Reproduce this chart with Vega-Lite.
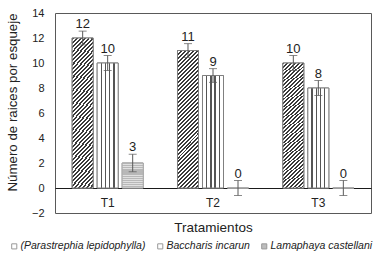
{
  "$schema": "https://vega.github.io/schema/vega-lite/v6.json",
  "width": 316,
  "height": 200,
  "autosize": {"type": "none"},
  "padding": {"left": 55, "top": 13, "right": 8, "bottom": 45},
  "config": {
    "font": "Liberation Sans",
    "view": {"stroke": "#595959", "strokeWidth": 1},
    "axis": {"grid": false, "titleFontWeight": "normal", "labelColor": "#222", "titleColor": "#222"},
    "axisY": {"labelOverlap": false, "labelFontSize": 11}
  },
  "data": {
    "values": [
      {"t": "T1", "s": "(Parastrephia lepidophylla)", "v": 12, "lo": 11.45, "hi": 12.55, "lab": "12"},
      {"t": "T1", "s": "Baccharis incarun", "v": 10, "lo": 9.4, "hi": 10.6, "lab": "10"},
      {"t": "T1", "s": "Lamaphaya castellani", "v": 2, "lo": 1.3, "hi": 2.7, "lab": "3"},
      {"t": "T2", "s": "(Parastrephia lepidophylla)", "v": 11, "lo": 10.45, "hi": 11.55, "lab": "11"},
      {"t": "T2", "s": "Baccharis incarun", "v": 9, "lo": 8.45, "hi": 9.55, "lab": "9"},
      {"t": "T2", "s": "Lamaphaya castellani", "v": 0, "lo": -0.6, "hi": 0.6, "lab": "0"},
      {"t": "T3", "s": "(Parastrephia lepidophylla)", "v": 10, "lo": 9.4, "hi": 10.6, "lab": "10"},
      {"t": "T3", "s": "Baccharis incarun", "v": 8, "lo": 7.4, "hi": 8.6, "lab": "8"},
      {"t": "T3", "s": "Lamaphaya castellani", "v": 0, "lo": -0.6, "hi": 0.6, "lab": "0"}
    ]
  },
  "encoding": {
    "x": {
      "field": "t", "type": "nominal",
      "scale": {"paddingInner": 0, "paddingOuter": 0},
      "axis": {
        "offset": -25, "labelAngle": 0, "ticks": false, "domainColor": "#1a1a1a", "domainWidth": 1,
        "labelPadding": 9, "labelFontSize": 12, "title": "Tratamientos", "titleFontSize": 13.5, "titlePadding": 12
      }
    },
    "xOffset": {
      "field": "s", "type": "nominal",
      "scale": {"domain": ["(Parastrephia lepidophylla)", "Baccharis incarun", "Lamaphaya castellani"], "paddingInner": 0.16, "paddingOuter": 0.686}
    }
  },
  "layer": [
    {
      "mark": {"type": "bar", "stroke": "#808080", "strokeWidth": 1},
      "encoding": {
        "y": {
          "field": "v", "type": "quantitative",
          "scale": {"domain": [-2, 14], "nice": false},
          "axis": {
            "values": [-2, 0, 2, 4, 6, 8, 10, 12, 14], "tickCount": 12, "labelOverlap": false, "domain": false, "ticks": false, "labelPadding": 11, "labelFontSize": 11,
            "title": "Número  de raices por esqueje", "titleFontSize": 13.3, "titleX": -43, "titleY": 89, "titleAngle": -90, "titleAlign": "center", "titleBaseline": "middle"
          }
        },
        "fill": {
          "field": "s", "type": "nominal",
          "scale": {"domain": ["(Parastrephia lepidophylla)", "Baccharis incarun", "Lamaphaya castellani"], "range": ["#ffffff", "#ffffff", "#bdbdbd"]},
          "legend": {
            "orient": "none", "legendX": -46, "legendY": 228, "direction": "horizontal", "title": null,
            "symbolType": "square", "symbolSize": 26, "symbolStrokeColor": "#999", "symbolStrokeWidth": 1,
            "labelFontSize": 10.5, "labelFontStyle": "italic", "labelColor": "#222", "columnPadding": 9, "labelOffset": 1, "labelLimit": 200
          }
        }
      }
    },
    {
      "transform": [{"filter": "datum.s === '(Parastrephia lepidophylla)'"}],
      "mark": {"type": "bar", "stroke": "#808080", "strokeWidth": 1,
        "fill": {"gradient": "linear", "x1": 0, "y1": 0, "x2": 0.1727, "y2": 1.1268, "stops": [
          {"offset": 0, "color": "#3a3a3a"}, {"offset": 0.0125, "color": "#3a3a3a"}, {"offset": 0.0125, "color": "#fff"}, {"offset": 0.025, "color": "#fff"},
          {"offset": 0.025, "color": "#3a3a3a"}, {"offset": 0.0375, "color": "#3a3a3a"}, {"offset": 0.0375, "color": "#fff"}, {"offset": 0.05, "color": "#fff"},
          {"offset": 0.05, "color": "#3a3a3a"}, {"offset": 0.0625, "color": "#3a3a3a"}, {"offset": 0.0625, "color": "#fff"}, {"offset": 0.075, "color": "#fff"},
          {"offset": 0.075, "color": "#3a3a3a"}, {"offset": 0.0875, "color": "#3a3a3a"}, {"offset": 0.0875, "color": "#fff"}, {"offset": 0.1, "color": "#fff"},
          {"offset": 0.1, "color": "#3a3a3a"}, {"offset": 0.1125, "color": "#3a3a3a"}, {"offset": 0.1125, "color": "#fff"}, {"offset": 0.125, "color": "#fff"},
          {"offset": 0.125, "color": "#3a3a3a"}, {"offset": 0.1375, "color": "#3a3a3a"}, {"offset": 0.1375, "color": "#fff"}, {"offset": 0.15, "color": "#fff"},
          {"offset": 0.15, "color": "#3a3a3a"}, {"offset": 0.1625, "color": "#3a3a3a"}, {"offset": 0.1625, "color": "#fff"}, {"offset": 0.175, "color": "#fff"},
          {"offset": 0.175, "color": "#3a3a3a"}, {"offset": 0.1875, "color": "#3a3a3a"}, {"offset": 0.1875, "color": "#fff"}, {"offset": 0.2, "color": "#fff"},
          {"offset": 0.2, "color": "#3a3a3a"}, {"offset": 0.2125, "color": "#3a3a3a"}, {"offset": 0.2125, "color": "#fff"}, {"offset": 0.225, "color": "#fff"},
          {"offset": 0.225, "color": "#3a3a3a"}, {"offset": 0.2375, "color": "#3a3a3a"}, {"offset": 0.2375, "color": "#fff"}, {"offset": 0.25, "color": "#fff"},
          {"offset": 0.25, "color": "#3a3a3a"}, {"offset": 0.2625, "color": "#3a3a3a"}, {"offset": 0.2625, "color": "#fff"}, {"offset": 0.275, "color": "#fff"},
          {"offset": 0.275, "color": "#3a3a3a"}, {"offset": 0.2875, "color": "#3a3a3a"}, {"offset": 0.2875, "color": "#fff"}, {"offset": 0.3, "color": "#fff"},
          {"offset": 0.3, "color": "#3a3a3a"}, {"offset": 0.3125, "color": "#3a3a3a"}, {"offset": 0.3125, "color": "#fff"}, {"offset": 0.325, "color": "#fff"},
          {"offset": 0.325, "color": "#3a3a3a"}, {"offset": 0.3375, "color": "#3a3a3a"}, {"offset": 0.3375, "color": "#fff"}, {"offset": 0.35, "color": "#fff"},
          {"offset": 0.35, "color": "#3a3a3a"}, {"offset": 0.3625, "color": "#3a3a3a"}, {"offset": 0.3625, "color": "#fff"}, {"offset": 0.375, "color": "#fff"},
          {"offset": 0.375, "color": "#3a3a3a"}, {"offset": 0.3875, "color": "#3a3a3a"}, {"offset": 0.3875, "color": "#fff"}, {"offset": 0.4, "color": "#fff"},
          {"offset": 0.4, "color": "#3a3a3a"}, {"offset": 0.4125, "color": "#3a3a3a"}, {"offset": 0.4125, "color": "#fff"}, {"offset": 0.425, "color": "#fff"},
          {"offset": 0.425, "color": "#3a3a3a"}, {"offset": 0.4375, "color": "#3a3a3a"}, {"offset": 0.4375, "color": "#fff"}, {"offset": 0.45, "color": "#fff"},
          {"offset": 0.45, "color": "#3a3a3a"}, {"offset": 0.4625, "color": "#3a3a3a"}, {"offset": 0.4625, "color": "#fff"}, {"offset": 0.475, "color": "#fff"},
          {"offset": 0.475, "color": "#3a3a3a"}, {"offset": 0.4875, "color": "#3a3a3a"}, {"offset": 0.4875, "color": "#fff"}, {"offset": 0.5, "color": "#fff"},
          {"offset": 0.5, "color": "#3a3a3a"}, {"offset": 0.5125, "color": "#3a3a3a"}, {"offset": 0.5125, "color": "#fff"}, {"offset": 0.525, "color": "#fff"},
          {"offset": 0.525, "color": "#3a3a3a"}, {"offset": 0.5375, "color": "#3a3a3a"}, {"offset": 0.5375, "color": "#fff"}, {"offset": 0.55, "color": "#fff"},
          {"offset": 0.55, "color": "#3a3a3a"}, {"offset": 0.5625, "color": "#3a3a3a"}, {"offset": 0.5625, "color": "#fff"}, {"offset": 0.575, "color": "#fff"},
          {"offset": 0.575, "color": "#3a3a3a"}, {"offset": 0.5875, "color": "#3a3a3a"}, {"offset": 0.5875, "color": "#fff"}, {"offset": 0.6, "color": "#fff"},
          {"offset": 0.6, "color": "#3a3a3a"}, {"offset": 0.6125, "color": "#3a3a3a"}, {"offset": 0.6125, "color": "#fff"}, {"offset": 0.625, "color": "#fff"},
          {"offset": 0.625, "color": "#3a3a3a"}, {"offset": 0.6375, "color": "#3a3a3a"}, {"offset": 0.6375, "color": "#fff"}, {"offset": 0.65, "color": "#fff"},
          {"offset": 0.65, "color": "#3a3a3a"}, {"offset": 0.6625, "color": "#3a3a3a"}, {"offset": 0.6625, "color": "#fff"}, {"offset": 0.675, "color": "#fff"},
          {"offset": 0.675, "color": "#3a3a3a"}, {"offset": 0.6875, "color": "#3a3a3a"}, {"offset": 0.6875, "color": "#fff"}, {"offset": 0.7, "color": "#fff"},
          {"offset": 0.7, "color": "#3a3a3a"}, {"offset": 0.7125, "color": "#3a3a3a"}, {"offset": 0.7125, "color": "#fff"}, {"offset": 0.725, "color": "#fff"},
          {"offset": 0.725, "color": "#3a3a3a"}, {"offset": 0.7375, "color": "#3a3a3a"}, {"offset": 0.7375, "color": "#fff"}, {"offset": 0.75, "color": "#fff"},
          {"offset": 0.75, "color": "#3a3a3a"}, {"offset": 0.7625, "color": "#3a3a3a"}, {"offset": 0.7625, "color": "#fff"}, {"offset": 0.775, "color": "#fff"},
          {"offset": 0.775, "color": "#3a3a3a"}, {"offset": 0.7875, "color": "#3a3a3a"}, {"offset": 0.7875, "color": "#fff"}, {"offset": 0.8, "color": "#fff"},
          {"offset": 0.8, "color": "#3a3a3a"}, {"offset": 0.8125, "color": "#3a3a3a"}, {"offset": 0.8125, "color": "#fff"}, {"offset": 0.825, "color": "#fff"},
          {"offset": 0.825, "color": "#3a3a3a"}, {"offset": 0.8375, "color": "#3a3a3a"}, {"offset": 0.8375, "color": "#fff"}, {"offset": 0.85, "color": "#fff"},
          {"offset": 0.85, "color": "#3a3a3a"}, {"offset": 0.8625, "color": "#3a3a3a"}, {"offset": 0.8625, "color": "#fff"}, {"offset": 0.875, "color": "#fff"},
          {"offset": 0.875, "color": "#3a3a3a"}, {"offset": 0.8875, "color": "#3a3a3a"}, {"offset": 0.8875, "color": "#fff"}, {"offset": 0.9, "color": "#fff"},
          {"offset": 0.9, "color": "#3a3a3a"}, {"offset": 0.9125, "color": "#3a3a3a"}, {"offset": 0.9125, "color": "#fff"}, {"offset": 0.925, "color": "#fff"},
          {"offset": 0.925, "color": "#3a3a3a"}, {"offset": 0.9375, "color": "#3a3a3a"}, {"offset": 0.9375, "color": "#fff"}, {"offset": 0.95, "color": "#fff"},
          {"offset": 0.95, "color": "#3a3a3a"}, {"offset": 0.9625, "color": "#3a3a3a"}, {"offset": 0.9625, "color": "#fff"}, {"offset": 0.975, "color": "#fff"},
          {"offset": 0.975, "color": "#3a3a3a"}, {"offset": 0.9875, "color": "#3a3a3a"}, {"offset": 0.9875, "color": "#fff"}, {"offset": 1, "color": "#fff"}
        ]}
      },
      "encoding": {"y": {"field": "v", "type": "quantitative"}}
    },
    {
      "transform": [{"filter": "datum.s === 'Baccharis incarun'"}],
      "mark": {"type": "bar", "stroke": "#808080", "strokeWidth": 1,
        "fill": {"gradient": "linear", "x1": 0, "y1": 0, "x2": 1, "y2": 0, "stops": [
          {"offset": 0, "color": "#fff"}, {"offset": 0.17, "color": "#fff"}, {"offset": 0.17, "color": "#555"}, {"offset": 0.23, "color": "#555"},
          {"offset": 0.23, "color": "#fff"}, {"offset": 0.37, "color": "#fff"}, {"offset": 0.37, "color": "#555"}, {"offset": 0.43, "color": "#555"},
          {"offset": 0.43, "color": "#fff"}, {"offset": 0.57, "color": "#fff"}, {"offset": 0.57, "color": "#555"}, {"offset": 0.63, "color": "#555"},
          {"offset": 0.63, "color": "#fff"}, {"offset": 0.77, "color": "#fff"}, {"offset": 0.77, "color": "#555"}, {"offset": 0.83, "color": "#555"},
          {"offset": 0.83, "color": "#fff"}, {"offset": 1, "color": "#fff"}
        ]}
      },
      "encoding": {"y": {"field": "v", "type": "quantitative"}}
    },
    {
      "transform": [{"filter": "datum.s === 'Lamaphaya castellani'"}],
      "mark": {"type": "bar", "stroke": "#b0b0b0", "strokeWidth": 1,
        "fill": {"gradient": "linear", "x1": 0, "y1": 0, "x2": 0, "y2": 1, "stops": [
          {"offset": 0, "color": "#b8b8b8"}, {"offset": 0.05, "color": "#b8b8b8"}, {"offset": 0.05, "color": "#e0e0e0"}, {"offset": 0.0833, "color": "#e0e0e0"},
          {"offset": 0.0833, "color": "#b8b8b8"}, {"offset": 0.1333, "color": "#b8b8b8"}, {"offset": 0.1333, "color": "#e0e0e0"}, {"offset": 0.1667, "color": "#e0e0e0"},
          {"offset": 0.1667, "color": "#b8b8b8"}, {"offset": 0.2167, "color": "#b8b8b8"}, {"offset": 0.2167, "color": "#e0e0e0"}, {"offset": 0.25, "color": "#e0e0e0"},
          {"offset": 0.25, "color": "#b8b8b8"}, {"offset": 0.3, "color": "#b8b8b8"}, {"offset": 0.3, "color": "#e0e0e0"}, {"offset": 0.3333, "color": "#e0e0e0"},
          {"offset": 0.3333, "color": "#b8b8b8"}, {"offset": 0.3833, "color": "#b8b8b8"}, {"offset": 0.3833, "color": "#e0e0e0"}, {"offset": 0.4167, "color": "#e0e0e0"},
          {"offset": 0.4167, "color": "#b8b8b8"}, {"offset": 0.4667, "color": "#b8b8b8"}, {"offset": 0.4667, "color": "#e0e0e0"}, {"offset": 0.5, "color": "#e0e0e0"},
          {"offset": 0.5, "color": "#b8b8b8"}, {"offset": 0.55, "color": "#b8b8b8"}, {"offset": 0.55, "color": "#e0e0e0"}, {"offset": 0.5833, "color": "#e0e0e0"},
          {"offset": 0.5833, "color": "#b8b8b8"}, {"offset": 0.6333, "color": "#b8b8b8"}, {"offset": 0.6333, "color": "#e0e0e0"}, {"offset": 0.6667, "color": "#e0e0e0"},
          {"offset": 0.6667, "color": "#b8b8b8"}, {"offset": 0.7167, "color": "#b8b8b8"}, {"offset": 0.7167, "color": "#e0e0e0"}, {"offset": 0.75, "color": "#e0e0e0"},
          {"offset": 0.75, "color": "#b8b8b8"}, {"offset": 0.8, "color": "#b8b8b8"}, {"offset": 0.8, "color": "#e0e0e0"}, {"offset": 0.8333, "color": "#e0e0e0"},
          {"offset": 0.8333, "color": "#b8b8b8"}, {"offset": 0.8833, "color": "#b8b8b8"}, {"offset": 0.8833, "color": "#e0e0e0"}, {"offset": 0.9167, "color": "#e0e0e0"},
          {"offset": 0.9167, "color": "#b8b8b8"}, {"offset": 0.9667, "color": "#b8b8b8"}, {"offset": 0.9667, "color": "#e0e0e0"}, {"offset": 1, "color": "#e0e0e0"}
        ]}
      },
      "encoding": {"y": {"field": "v", "type": "quantitative"}}
    },
    {
      "mark": {"type": "rule", "color": "#595959", "strokeWidth": 1},
      "encoding": {"y": {"field": "lo", "type": "quantitative"}, "y2": {"field": "hi"}}
    },
    {
      "mark": {"type": "tick", "color": "#595959", "thickness": 1, "size": 8, "orient": "horizontal"},
      "encoding": {"y": {"field": "lo", "type": "quantitative"}}
    },
    {
      "mark": {"type": "tick", "color": "#595959", "thickness": 1, "size": 8, "orient": "horizontal"},
      "encoding": {"y": {"field": "hi", "type": "quantitative"}}
    },
    {
      "mark": {"type": "text", "fontSize": 13, "color": "#222", "baseline": "alphabetic", "dy": -3},
      "encoding": {"y": {"field": "hi", "type": "quantitative"}, "text": {"field": "lab"}}
    }
  ]
}
